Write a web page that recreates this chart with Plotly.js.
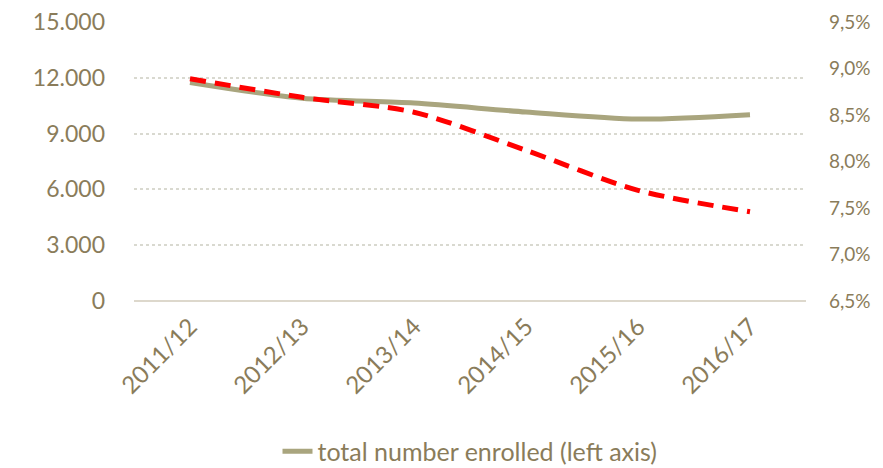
<!DOCTYPE html>
<html><head><meta charset="utf-8">
<script src="https://cdn.plot.ly/plotly-3.0.1.min.js"></script>
<style>body{margin:0;background:#fff}#c{width:883px;height:468px}</style>
</head><body><div id="c"></div>
<script>
const years = ["2011/12","2012/13","2013/14","2014/15","2015/16","2016/17"];
const enrolled = [11750, 10900, 10640, 10160, 9780, 10020];
const share = [8.89, 8.69, 8.53, 8.12, 7.69, 7.46];
const leftTicks = [0, 3000, 6000, 9000, 12000, 15000];
const rightTicks = [6.5, 7.0, 7.5, 8.0, 8.5, 9.0, 9.5];

const txt = "#8a7c5a";
const traces = [
  {x: years, y: enrolled, type: "scatter", mode: "lines", name: "total number enrolled (left axis)",
   line: {color: "#a9a57e", width: 5, shape: "spline", smoothing: 0.8}, yaxis: "y"},
  {x: years, y: share, type: "scatter", mode: "lines", name: "share (right axis)", showlegend: false,
   line: {color: "#ff0000", width: 5, dash: "16px,9px", shape: "spline", smoothing: 0.8}, yaxis: "y2"}
];
const layout = {
  width: 883, height: 468,
  margin: {l: 134, r: 77, t: 22, b: 167},
  paper_bgcolor: "#fff", plot_bgcolor: "#fff",
  separators: ",.",
  font: {family: "Lato, 'Open Sans', sans-serif", color: txt},
  showlegend: true,
  legend: {orientation: "h", x: 0.5, xanchor: "center", yref: "container", y: 0.035, yanchor: "middle",
           font: {size: 25, color: txt}},
  xaxis: {type: "category", range: [-0.5, 5.5], tickangle: -45, tickfont: {size: 24, color: txt},
          automargin: false, showgrid: false, zeroline: false, showline: false, ticks: "", ticklabelstandoff: 6},
  yaxis: {range: [0, 15000], tickvals: leftTicks, tickformat: ",d", automargin: false,
          tickfont: {size: 23, color: txt}, ticklabelstandoff: 28,
          showgrid: true, gridcolor: "#d9d9d0", griddash: "dot", gridwidth: 1.5,
          zeroline: true, zerolinecolor: "#ddd8cc", zerolinewidth: 2, showline: false},
  yaxis2: {range: [6.5, 9.5], tickvals: rightTicks,
           ticktext: rightTicks.map(v => v.toFixed(1).replace(".", ",") + "%"),
           overlaying: "y", side: "right", automargin: false, tickfont: {size: 19, color: txt}, ticklabelstandoff: 22,
           showgrid: false, zeroline: false, showline: false}
};
Plotly.newPlot("c", traces, layout, {displayModeBar: false});
</script></body></html>
